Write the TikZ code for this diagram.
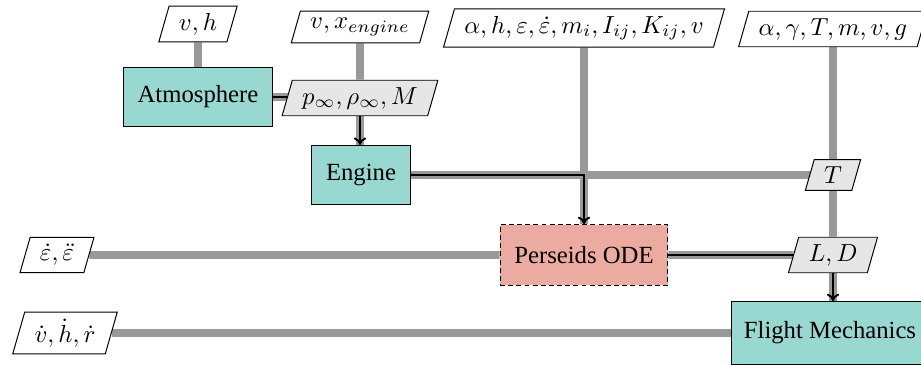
\documentclass[tikz,border=0pt]{standalone}
\usepackage{fontspec}
\setmainfont{Liberation Serif}
\newfontfamily\timesfam{Liberation Serif}
\usetikzlibrary{shapes.geometric,arrows.meta}
\definecolor{tealc}{RGB}{153,216,208}
\definecolor{salmonc}{RGB}{235,171,160}
\definecolor{datafill}{RGB}{230,230,230}
\definecolor{dataline}{RGB}{153,153,153}
\pgfdeclarelayer{background}
\pgfsetlayers{background,main}
\tikzset{
  block/.style={draw=black, fill=tealc, minimum height=24pt, inner xsep=5pt, font=\timesfam},
  odeblock/.style={draw=black, fill=salmonc, dash pattern=on 2pt off 1.3pt, minimum height=24.7pt, minimum width=68pt, font=\timesfam},
  para/.style={trapezium, trapezium left angle=74, trapezium right angle=106, draw=black, inner xsep=4pt, inner ysep=2.8pt, trapezium stretches=false},
  inpara/.style={para, fill=white},
  datapara/.style={para, fill=datafill},
  dline/.style={draw=dataline, line width=3.2pt},
  pline/.style={draw=black, line width=0.8pt},
  parrow/.style={pline, -{To[length=3pt,width=5pt]}},
}
\begin{document}
\begin{tikzpicture}[x=0.405pt, y=-0.405pt]
\useasboundingbox (0,0) rectangle (921,365);
\clip (0,0) rectangle (921,365);
% inputs
\node[inpara] (vh) at (198,24) {$v,h$};
\node[inpara] (vx) at (360,27) {$v,x_{engine}$};
\node[inpara] (in3) at (584,28) {$\alpha,h,\varepsilon,\dot{\varepsilon},m_i,I_{ij},K_{ij},v$};
\node[inpara] (in4) at (833,29) {$\alpha,\gamma,T,m,v,g$};
\node[inpara] (eps) at (57,255) {$\dot{\varepsilon},\ddot{\varepsilon}$};
\node[inpara] (vdot) at (65,333) {$\dot{v},\dot{h},\dot{r}$};
% blocks
\node[block, minimum width=60pt] (atm) at (198,97) {Atmosphere};
\node[block, minimum width=39.7pt] (eng) at (361,175) {Engine};
\node[odeblock] (ode) at (584,255) {Perseids ODE};
\node[block, minimum width=76pt, minimum height=25.5pt] (fm) at (830,333) {Flight Mechanics};
% data
\node[datapara] (pinf) at (360,98) {$p_\infty,\rho_\infty,M$};
\node[datapara] (T) at (833,175) {$T$};
\node[datapara] (LD) at (833,255) {$L,D$};
\begin{pgfonlayer}{background}
  \draw[dline] (vh) -- (vh |- atm.north);
  \draw[dline] (vx) -- (pinf);
  \draw[dline] (atm) -- (atm -| pinf);
  \draw[dline] (pinf) -- (pinf |- eng.north);
  \draw[dline] (in3) -- (in3 |- ode.north);
  \draw[dline] (eng) -- (eng -| T);
  \draw[dline] (in4) -- (T);
  \draw[dline] (T) -- (LD);
  \draw[dline] (LD) -- (LD |- fm.north);
  \draw[dline] (eps) -- (ode);
  \draw[dline] (ode) -- (LD);
  \draw[dline] (vdot) -- (vdot -| fm.west);
  % process lines
  \draw[pline] (atm.east) -- (atm.east -| pinf.west);
  \draw[parrow] (pinf.south) -- (pinf.south |- eng.north);
  \draw[parrow] (eng.east) -| (in3 |- ode.north);
  \draw[pline] (ode.east) -- (ode.east -| LD.west);
  \draw[parrow] (LD.south) -- (LD.south |- fm.north);
\end{pgfonlayer}
\end{tikzpicture}
\end{document}
